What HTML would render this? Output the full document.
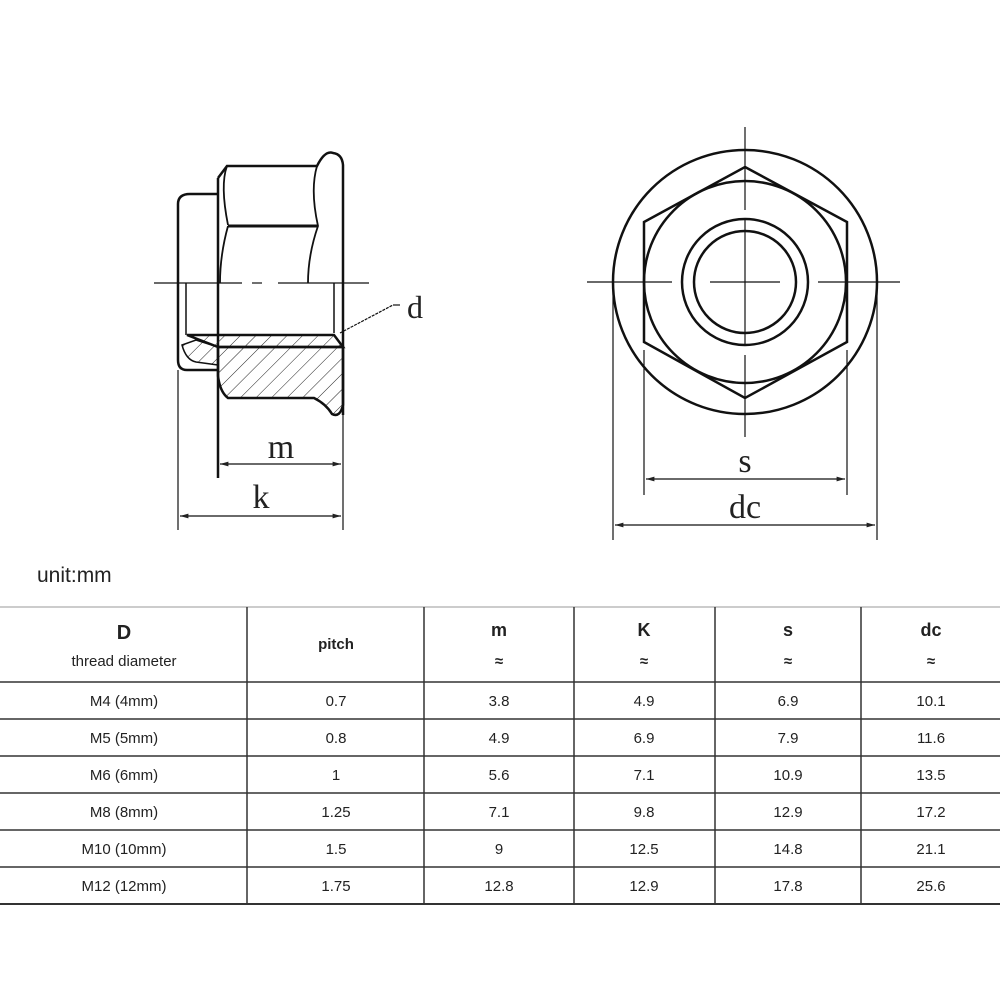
<!DOCTYPE html>
<html><head><meta charset="utf-8"><style>
html,body{margin:0;padding:0;background:#fff;}
svg{display:block;}
.t{font-family:"Liberation Sans",sans-serif;fill:#222;text-anchor:middle;}
.s{font-family:"Liberation Serif",serif;fill:#222;text-anchor:middle;}
</style></head><body>
<svg width="1000" height="1000" viewBox="0 0 1000 1000" xmlns="http://www.w3.org/2000/svg">
<defs>
<pattern id="h" patternUnits="userSpaceOnUse" width="11" height="11" patternTransform="rotate(45)">
<line x1="0" y1="0" x2="0" y2="11" stroke="#222" stroke-width="1"/>
</pattern>
<marker id="a" markerWidth="8" markerHeight="6" refX="7" refY="3" orient="auto-start-reverse"><path d="M0,1 L7,3 L0,5z" fill="#222"/></marker>
</defs>
<g stroke="#111" fill="none" stroke-width="2.5">
<path d="M218,370 L187,370 Q178,370 178,360 L178,204 Q178,194 190,194 L218,194"/>
<line x1="186" y1="283" x2="186" y2="335" stroke-width="1.5"/>
<line x1="218" y1="178" x2="218" y2="478"/>
<path d="M218,178 L227,166 L317,166 Q325,150 333,153 Q342,154 343,165 L343,415"/>
<path d="M227,166 Q220,185 228,225" stroke-width="1.8"/>
<line x1="228" y1="226" x2="318" y2="226" stroke-width="3"/>
<path d="M317,166 Q310,190 318,226 Q308,255 308,283" stroke-width="1.8"/>
<path d="M228,226 Q220,255 220,283" stroke-width="1.8"/>
<line x1="334" y1="283" x2="334" y2="333" stroke-width="1.5"/>
<path d="M218,347 L343,347 L343,405 Q340,418 332,414 Q326,404 314,398 L228,398 Q220,392 218,376 Z" fill="url(#h)"/>
<path d="M187,335 L334,335 L343,347 L218,347 Z" fill="url(#h)"/>
<path d="M182,345 Q186,360 196,362 L218,365 L218,347 L196,340 Z" fill="url(#h)" stroke-width="1.5"/>
<line x1="154" y1="283" x2="242" y2="283" stroke-width="1.2"/>
<line x1="252" y1="283" x2="262" y2="283" stroke-width="1.2"/>
<line x1="278" y1="283" x2="369" y2="283" stroke-width="1.2"/>
<line x1="178" y1="370" x2="178" y2="530" stroke-width="1.2"/>
<line x1="343" y1="415" x2="343" y2="530" stroke-width="1.2"/>
<line x1="340" y1="333" x2="393" y2="305" stroke-width="1.2" stroke-dasharray="3,1"/>
<line x1="393" y1="305" x2="400" y2="305" stroke-width="1.2"/>
<line x1="220" y1="464" x2="341" y2="464" stroke-width="1.2" marker-start="url(#a)" marker-end="url(#a)"/>
<line x1="180" y1="516" x2="341" y2="516" stroke-width="1.2" marker-start="url(#a)" marker-end="url(#a)"/>
<circle cx="745" cy="282" r="132"/>
<path d="M745,167 L847,222 L847,342 L745,398 L644,342 L644,222 Z"/>
<circle cx="745" cy="282" r="101"/>
<circle cx="745" cy="282" r="63"/>
<circle cx="745" cy="282" r="51"/>
<line x1="587" y1="282" x2="672" y2="282" stroke-width="1.2"/>
<line x1="710" y1="282" x2="780" y2="282" stroke-width="1.2"/>
<line x1="818" y1="282" x2="900" y2="282" stroke-width="1.2"/>
<line x1="745" y1="127" x2="745" y2="210" stroke-width="1.2"/>
<line x1="745" y1="220" x2="745" y2="345" stroke-width="1.2"/>
<line x1="745" y1="355" x2="745" y2="437" stroke-width="1.2"/>
<line x1="644" y1="350" x2="644" y2="495" stroke-width="1.2"/>
<line x1="847" y1="350" x2="847" y2="495" stroke-width="1.2"/>
<line x1="613" y1="290" x2="613" y2="540" stroke-width="1.2"/>
<line x1="877" y1="290" x2="877" y2="540" stroke-width="1.2"/>
<line x1="646" y1="479" x2="845" y2="479" stroke-width="1.2" marker-start="url(#a)" marker-end="url(#a)"/>
<line x1="615" y1="525" x2="875" y2="525" stroke-width="1.2" marker-start="url(#a)" marker-end="url(#a)"/>
</g>
<text class="s" x="281" y="458" font-size="34">m</text>
<text class="s" x="261" y="508" font-size="34">k</text>
<text class="s" x="415" y="318" font-size="32">d</text>
<text class="s" x="745" y="472" font-size="34">s</text>
<text class="s" x="745" y="518" font-size="34">dc</text>
<text x="37" y="582" font-family="Liberation Sans,sans-serif" font-size="21" fill="#222">unit:mm</text>
<g stroke="#333" stroke-width="1.5">
<line x1="0" y1="607" x2="1000" y2="607" stroke="#bbb"/>
<line x1="0" y1="682" x2="1000" y2="682"/>
<line x1="0" y1="719" x2="1000" y2="719"/>
<line x1="0" y1="756" x2="1000" y2="756"/>
<line x1="0" y1="793" x2="1000" y2="793"/>
<line x1="0" y1="830" x2="1000" y2="830"/>
<line x1="0" y1="867" x2="1000" y2="867"/>
<line x1="0" y1="904" x2="1000" y2="904" stroke-width="2"/>
<line x1="247" y1="607" x2="247" y2="904"/>
<line x1="424" y1="607" x2="424" y2="904"/>
<line x1="574" y1="607" x2="574" y2="904"/>
<line x1="715" y1="607" x2="715" y2="904"/>
<line x1="861" y1="607" x2="861" y2="904"/>
</g>
<g class="t" font-size="15">
<text x="124" y="639" font-size="20" font-weight="bold">D</text>
<text x="124" y="666">thread diameter</text>
<text x="336" y="649" font-weight="bold">pitch</text>
<text x="499" y="636" font-size="18" font-weight="bold">m</text>
<text x="644" y="636" font-size="18" font-weight="bold">K</text>
<text x="788" y="636" font-size="18" font-weight="bold">s</text>
<text x="931" y="636" font-size="18" font-weight="bold">dc</text>
<text x="499" y="666" font-weight="bold">≈</text>
<text x="644" y="666" font-weight="bold">≈</text>
<text x="788" y="666" font-weight="bold">≈</text>
<text x="931" y="666" font-weight="bold">≈</text>
<text x="124" y="706">M4 (4mm)</text><text x="336" y="706">0.7</text><text x="499" y="706">3.8</text><text x="644" y="706">4.9</text><text x="788" y="706">6.9</text><text x="931" y="706">10.1</text>
<text x="124" y="743">M5 (5mm)</text><text x="336" y="743">0.8</text><text x="499" y="743">4.9</text><text x="644" y="743">6.9</text><text x="788" y="743">7.9</text><text x="931" y="743">11.6</text>
<text x="124" y="780">M6 (6mm)</text><text x="336" y="780">1</text><text x="499" y="780">5.6</text><text x="644" y="780">7.1</text><text x="788" y="780">10.9</text><text x="931" y="780">13.5</text>
<text x="124" y="817">M8 (8mm)</text><text x="336" y="817">1.25</text><text x="499" y="817">7.1</text><text x="644" y="817">9.8</text><text x="788" y="817">12.9</text><text x="931" y="817">17.2</text>
<text x="124" y="854">M10 (10mm)</text><text x="336" y="854">1.5</text><text x="499" y="854">9</text><text x="644" y="854">12.5</text><text x="788" y="854">14.8</text><text x="931" y="854">21.1</text>
<text x="124" y="891">M12 (12mm)</text><text x="336" y="891">1.75</text><text x="499" y="891">12.8</text><text x="644" y="891">12.9</text><text x="788" y="891">17.8</text><text x="931" y="891">25.6</text>
</g>
</svg>
</body></html>
